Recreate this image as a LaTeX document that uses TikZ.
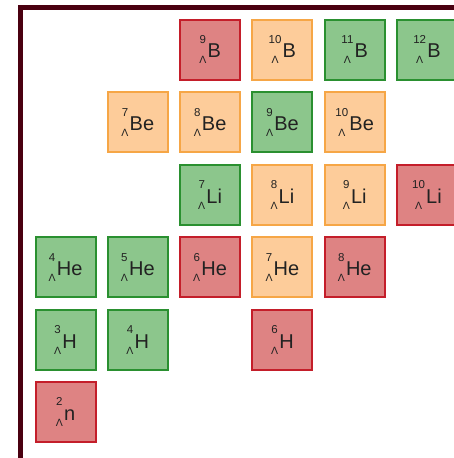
\documentclass[tikz,border=0pt]{standalone}
\usepackage{fontspec}
\setmainfont{Liberation Sans}

\definecolor{framered}{HTML}{4A0010}
\definecolor{redfill}{HTML}{DE8383}
\definecolor{reddraw}{HTML}{C41E2A}
\definecolor{grnfill}{HTML}{8CC68C}
\definecolor{grndraw}{HTML}{2A9030}
\definecolor{orgfill}{HTML}{FDCC9A}
\definecolor{orgdraw}{HTML}{F6A646}
\definecolor{inkgray}{HTML}{222222}

% mass number over Lambda, then the element
\newcommand{\hyp}[2]{\raisebox{-6pt}{\fontsize{11.5}{20.4}\selectfont\begin{tabular}[b]{@{}c@{}}#1\\{\fontsize{10.5}{12}\selectfont Λ}\end{tabular}}\hspace{1.2pt}#2}

\begin{document}
\begin{tikzpicture}[x=1pt,y=-1pt,
    cell/.style={rectangle, line width=2pt, minimum size=60pt, inner sep=0pt,
        text height=16.6pt, text depth=0pt, text=inkgray,
        font=\fontsize{20}{22}\selectfont},
    redcell/.style={cell, draw=reddraw, fill=redfill},
    grncell/.style={cell, draw=grndraw, fill=grnfill},
    orgcell/.style={cell, draw=orgdraw, fill=orgfill}]

\useasboundingbox (0,0) rectangle (454,458);
\clip (0,0) rectangle (454,458);

% ===== Khung =====
\draw[framered, line width=5pt] (20,470) |- (470,7.5);

% ===== Hang B =====
\foreach \c/\a/\k in {2/9/redcell, 3/10/orgcell, 4/11/grncell, 5/12/grncell} {
    \node[\k] (B\a) at (65.5+72.3*\c, 49.5) {\hyp{\a}{B}};
}

% ===== Hang Be =====
\foreach \c/\a/\k in {1/7/orgcell, 2/8/orgcell, 3/9/grncell, 4/10/orgcell} {
    \node[\k] (Be\a) at (65.5+72.3*\c, 122.1) {\hyp{\a}{Be}};
}

% ===== Hang Li =====
\foreach \c/\a/\k in {2/7/grncell, 3/8/orgcell, 4/9/orgcell, 5/10/redcell} {
    \node[\k] (Li\a) at (65.5+72.3*\c, 194.7) {\hyp{\a}{Li}};
}

% ===== Hang He =====
\foreach \c/\a/\k in {0/4/grncell, 1/5/grncell, 2/6/redcell, 3/7/orgcell, 4/8/redcell} {
    \node[\k] (He\a) at (65.5+72.3*\c, 267.3) {\hyp{\a}{He}};
}

% ===== Hang H =====
\foreach \c/\a/\k in {0/3/grncell, 1/4/grncell, 3/6/redcell} {
    \node[\k] (H\a) at (65.5+72.3*\c, 339.9) {\hyp{\a}{H}};
}

% ===== Hang n =====
\node[redcell] (n2) at (65.5, 412) {\hyp{2}{n}};

\end{tikzpicture}
\end{document}
